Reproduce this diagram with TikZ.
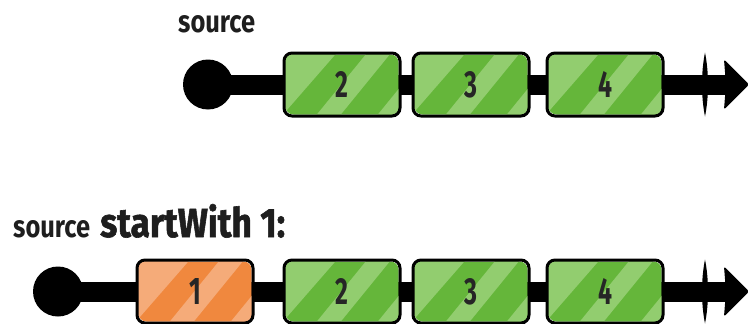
\documentclass[tikz,border=0pt]{standalone}
\usepackage{fontspec}
\setmainfont{Fira Sans}
\usetikzlibrary{calc}
\definecolor{ink}{HTML}{1E1E1E}
\definecolor{digitink}{HTML}{262626}
\definecolor{gbase}{HTML}{65B63A}
\definecolor{glight}{HTML}{92CD6F}
\definecolor{obase}{HTML}{F0883E}
\definecolor{olight}{HTML}{F5AB79}
\newcommand\digitlabel[1]{\scalebox{0.66}[1]{\resizebox{!}{26pt}{\bfseries #1}}}
% \marble{name}{x}{y}{label}{base}{light}
\newcommand\marble[6]{%
  \node[marble, fill=#5] (#1) at (#2,#3) {};
  \begin{scope}
    \clip[rounded corners=8pt] (#1.north west) rectangle (#1.south east);
    \begin{scope}[shift={(#1.north west)}]
      \fill[#6] (-5,-5) -- (57,-5) -- (-4,65) -- (-5,65) -- cycle;
      \fill[#6] (87,-5) -- (111,-5) -- (54,65) -- (30,65) -- cycle;
      \fill[#6] (148,-5) -- (200,-5) -- (200,65) -- (91,65) -- cycle;
    \end{scope}
  \end{scope}
  \draw[line width=3pt, rounded corners=8pt] (#1.north west) rectangle (#1.south east);
  \node[text=digitink, inner sep=0pt] (#1-label) at (#1.center) {\digitlabel{#4}};
}
\tikzset{
  marble/.style={line width=3pt, rounded corners=8pt,
    minimum width=113pt, minimum height=60pt, inner sep=0pt},
  startdot/.style={circle, fill=black, minimum size=50pt, inner sep=0pt},
  timeline/.style={line width=20pt, draw=black},
  caption/.style={anchor=base west, inner sep=0pt, text=ink},
}
\begin{document}
\begin{tikzpicture}[x=1pt,y=-1pt]
\useasboundingbox (0,0) rectangle (748,324);

% ---------- top row ----------
\node[caption] (cap1) at (178,32) {\resizebox{77pt}{17pt}{\bfseries source}};
\node[startdot] (d1) at (208,84.5) {};
\coordinate (e1) at (727,84.5);
\draw[timeline] (d1.center) -- (e1);
\marble{a2}{342}{84.5}{2}{gbase}{glight}
\marble{a3}{471}{84.5}{3}{gbase}{glight}
\marble{a4}{605}{84.5}{4}{gbase}{glight}
\begin{scope}[shift={(e1)}]
  \fill[black] (-22,-32) .. controls (-18,-12) and (-18,12) .. (-22,32)
               .. controls (-26,12) and (-26,-12) .. (-22,-32) -- cycle;
  \fill[black, rounded corners=2pt] (-3,-25) -- (22,0) -- (-3,25) -- (-1,0) -- cycle;
\end{scope}

% ---------- bottom row ----------
\node[caption] (cap2) at (13,237) {\resizebox{77pt}{17pt}{\bfseries source}};
\node[caption] (cap3) at (100,237) {\resizebox{185pt}{33pt}{\bfseries\addfontfeature{FakeBold=1.5}startWith 1:}};
\node[startdot] (d2) at (58,291.5) {};
\coordinate (e2) at (727,291.5);
\draw[timeline] (d2.center) -- (e2);
\marble{b1}{195}{291.5}{1}{obase}{olight}
\marble{b2}{342}{291.5}{2}{gbase}{glight}
\marble{b3}{471}{291.5}{3}{gbase}{glight}
\marble{b4}{605}{291.5}{4}{gbase}{glight}
\begin{scope}[shift={(e2)}]
  \fill[black] (-22,-32) .. controls (-18,-12) and (-18,12) .. (-22,32)
               .. controls (-26,12) and (-26,-12) .. (-22,-32) -- cycle;
  \fill[black, rounded corners=2pt] (-3,-25) -- (22,0) -- (-3,25) -- (-1,0) -- cycle;
\end{scope}
\end{tikzpicture}
\end{document}
